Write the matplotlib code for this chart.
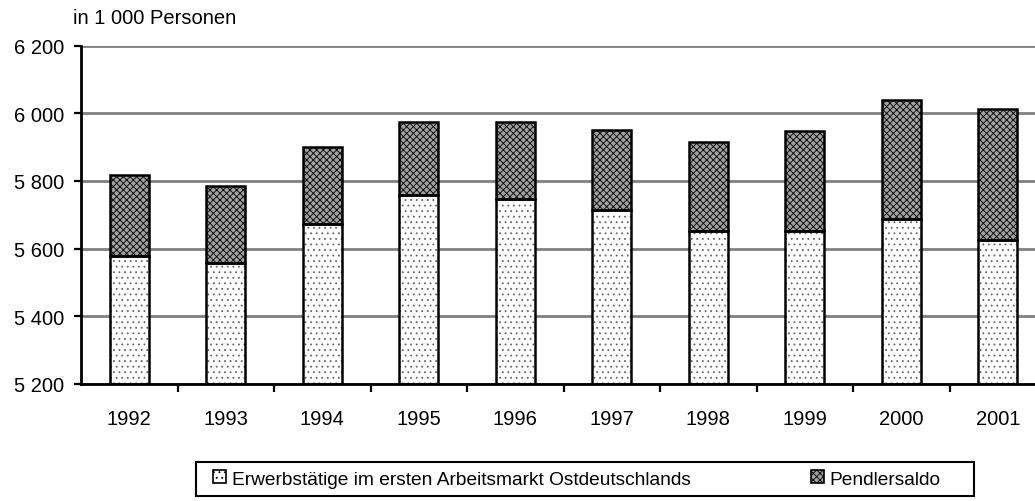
import matplotlib
matplotlib.use("Agg")
import matplotlib.pyplot as plt
from matplotlib.patches import Patch, Rectangle
from matplotlib.ticker import FuncFormatter

plt.rcParams['font.family'] = ['Liberation Sans', 'DejaVu Sans']
plt.rcParams['hatch.linewidth'] = 0.6

years = ['1992', '1993', '1994', '1995', '1996', '1997', '1998', '1999', '2000', '2001']
erwerbstaetige = [5579, 5557, 5673, 5758, 5747, 5714, 5651, 5651, 5687, 5625]
gesamt = [5817, 5784, 5899, 5974, 5973, 5951, 5916, 5948, 6040, 6012]
pendlersaldo = [g - e for g, e in zip(gesamt, erwerbstaetige)]
yticks = [5200, 5400, 5600, 5800, 6000, 6200]
ymin, ymax = 5200, 6200

label_e = 'Erwerbstätige im ersten Arbeitsmarkt Ostdeutschlands'
label_p = 'Pendlersaldo'

FS = 14.5
W, H = 1035, 502

fig = plt.figure(figsize=(W / 100, H / 100), dpi=100)
ax = fig.add_axes([81/W, 117/H, 965/W, 338.5/H])

x = list(range(len(years)))
w = 0.4
base = [ymin] * len(years)
h_e = [e - ymin for e in erwerbstaetige]

# hatch layers
ax.bar(x, h_e, w, bottom=base, color='white', edgecolor='#666666', hatch='...', linewidth=0, zorder=2)
ax.bar(x, pendlersaldo, w, bottom=erwerbstaetige, color='#a0a0a0', edgecolor='black', hatch='xxxxx', linewidth=0, zorder=2)
# outlines
ax.bar(x, h_e, w, bottom=base, fill=False, edgecolor='black', linewidth=1.8, zorder=3)
ax.bar(x, pendlersaldo, w, bottom=erwerbstaetige, fill=False, edgecolor='black', linewidth=1.8, zorder=3)

ax.set_xlim(-0.5, len(years) - 0.5)
ax.set_ylim(ymin, ymax)
ax.set_yticks(yticks)
ax.yaxis.set_major_formatter(FuncFormatter(lambda v, p: f"{int(v):,}".replace(',', ' ')))
ax.grid(axis='y', color='#808080', linewidth=2.0, zorder=0)
ax.set_axisbelow(True)

ax.set_xticks(x)
ax.set_xticklabels(years)
ax.set_xticks([i + 0.5 for i in range(len(years) - 1)], minor=True)
ax.tick_params(axis='x', which='major', length=0, pad=18, labelsize=FS)
ax.tick_params(axis='x', which='minor', length=6, width=1.6, direction='out')
ax.tick_params(axis='y', length=5, width=1.6, direction='out', labelsize=FS, pad=7)

for s in ['top', 'right']:
    ax.spines[s].set_visible(False)
ax.spines['left'].set_linewidth(2)
ax.spines['bottom'].set_linewidth(2)

fig.text(73/W, 1 - 19/H, 'in 1 000 Personen', fontsize=FS, ha='left', va='center')

handles = [Patch(facecolor='white', edgecolor='black', hatch='...', linewidth=1.2, label=label_e),
           Patch(facecolor='#a0a0a0', edgecolor='black', hatch='xxxxx', linewidth=1.2, label=label_p)]
leg = fig.legend(handles=handles, loc='center', bbox_to_anchor=(577/W, 1 - 480/H), ncol=2,
                 fontsize=13.8, frameon=False,
                 handlelength=0.65, handleheight=0.65, handletextpad=0.3, columnspacing=6.3,
                 borderpad=0.3, borderaxespad=0)
fig.patches.append(Rectangle((196/W, 1 - 497/H), 778/W, 34/H, transform=fig.transFigure,
                             fill=False, edgecolor='black', linewidth=1.5, zorder=5))

fig.savefig('out.png', dpi=100)
